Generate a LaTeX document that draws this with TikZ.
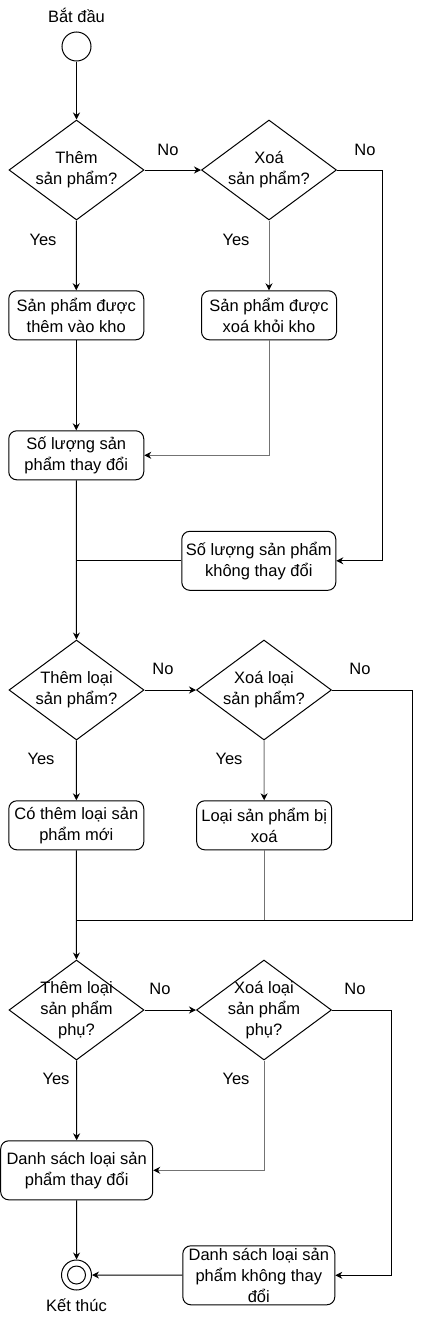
\documentclass[tikz,border=0pt]{standalone}
\usepackage{fontspec}
\setmainfont{Liberation Sans}
\usetikzlibrary{shapes.geometric,arrows.meta}
\tikzset{
  every node/.style={font=\fontsize{16.5}{21}\selectfont},
  decision/.style={diamond, draw, minimum width=135pt, minimum height=100pt, inner sep=-8pt, align=center},
  process/.style={draw, rounded corners=8pt, minimum width=135pt, minimum height=49pt, inner xsep=1pt, inner ysep=0pt, align=center},
  arr/.style={-{Stealth[length=7pt,width=7pt,color=black]}},
  muted/.style={draw=black!55}
}
\begin{document}
\begin{tikzpicture}[x=1pt,y=-1pt,line width=1pt]
\useasboundingbox (0,0) rectangle (421,1320);
% start / end
\node[draw,circle,minimum size=29pt,inner sep=0pt] (start) at (76.5,46.5) {};
\node (startlbl) at (76.5,15) {Bắt đầu};
\node[draw,circle,minimum size=30pt,inner sep=0pt] (stop) at (76.5,1275) {};
\draw (stop) circle (9pt);
\node (stoplbl) at (76.5,1305) {Kết thúc};

% san pham
\node[decision] (d1) at (76.5,170) {Thêm\\sản phẩm?};
\node[decision] (d2) at (269,170) {Xoá\\sản phẩm?};
\node[process] (b1) at (76.25,315.3) {Sản phẩm được\\thêm vào kho};
\node[process] (b2) at (269,315.3) {Sản phẩm được\\xoá khỏi kho};
\node[process] (b3) at (76.25,455.3) {Số lượng sản\\phẩm thay đổi};
\node[process,minimum width=154pt,minimum height=59pt] (b4) at (258.8,560.8) {Số lượng sản phẩm\\không thay đổi};

% loai san pham
\node[decision] (d3) at (76.5,690) {Thêm loại\\sản phẩm?};
\node[decision] (d4) at (264,690) {Xoá loại\\sản phẩm?};
\node[process] (b5) at (76.3,825.3) {Có thêm loại sản\\phẩm mới};
\node[process] (b6) at (264.2,825.3) {Loại sản phẩm bị\\xoá};
\coordinate (join2) at (76.5,920);

% loai san pham phu
\node[decision] (d5) at (76.5,1010) {Thêm loại\\sản phẩm\\phụ?};
\node[decision] (d6) at (264,1010) {Xoá loại\\sản phẩm\\phụ?};
\node[process,minimum width=152pt,minimum height=59pt] (b7) at (76.7,1170.3) {Danh sách loại sản\\phẩm thay đổi};
\node[process,minimum width=152pt,minimum height=59pt] (b8) at (258.8,1275.3) {Danh sách loại sản\\phẩm không thay\\đổi};

% yes / no
\node (no1) at (168,150) {No};
\node (no2) at (365,150) {No};
\node (yes1) at (43,240) {Yes};
\node (yes2) at (236,240) {Yes};
\node (no3) at (163,669) {No};
\node (no4) at (360,669) {No};
\node (yes3) at (41,759) {Yes};
\node (yes4) at (229,759) {Yes};
\node (no5) at (160,989) {No};
\node (no6) at (355,989) {No};
\node (yes5) at (56,1079) {Yes};
\node (yes6) at (236,1079) {Yes};

% connectors
\draw[arr] (start) -- (d1);
\draw[arr] (d1.east) -- (d2.west);
\draw[arr] (d2.east) -- ++(45,0) |- (b4.east);
\draw[arr] (d1.south) -- (b1.north);
\draw[arr,muted] (d2.south) -- (b2.north);
\draw[arr] (b1) -- (b3);
\draw[arr,muted] (b2.south) |- (b3.east);
\draw[arr] (b3) -- (d3);
\draw (b4.west) -- (b4.west -| b3.south);

\draw[arr] (d3.east) -- (d4.west);
\draw[arr] (d3) -- (b5);
\draw[arr,muted] (d4) -- (b6);
\draw (d4.east) -- ++(80,0) |- (join2);
\draw[muted] (b6.south) -- (b6.south |- join2);
\draw[arr] (b5) -- (d5);

\draw[arr] (d5.east) -- (d6.west);
\draw[arr] (d5) -- (b7);
\draw[arr,muted] (d6.south) |- (b7.east);
\draw[arr] (d6.east) -- ++(59,0) |- (b8.east);
\draw[arr] (b7) -- (stop);
\draw[arr] (b8) -- (stop);
\end{tikzpicture}
\end{document}
